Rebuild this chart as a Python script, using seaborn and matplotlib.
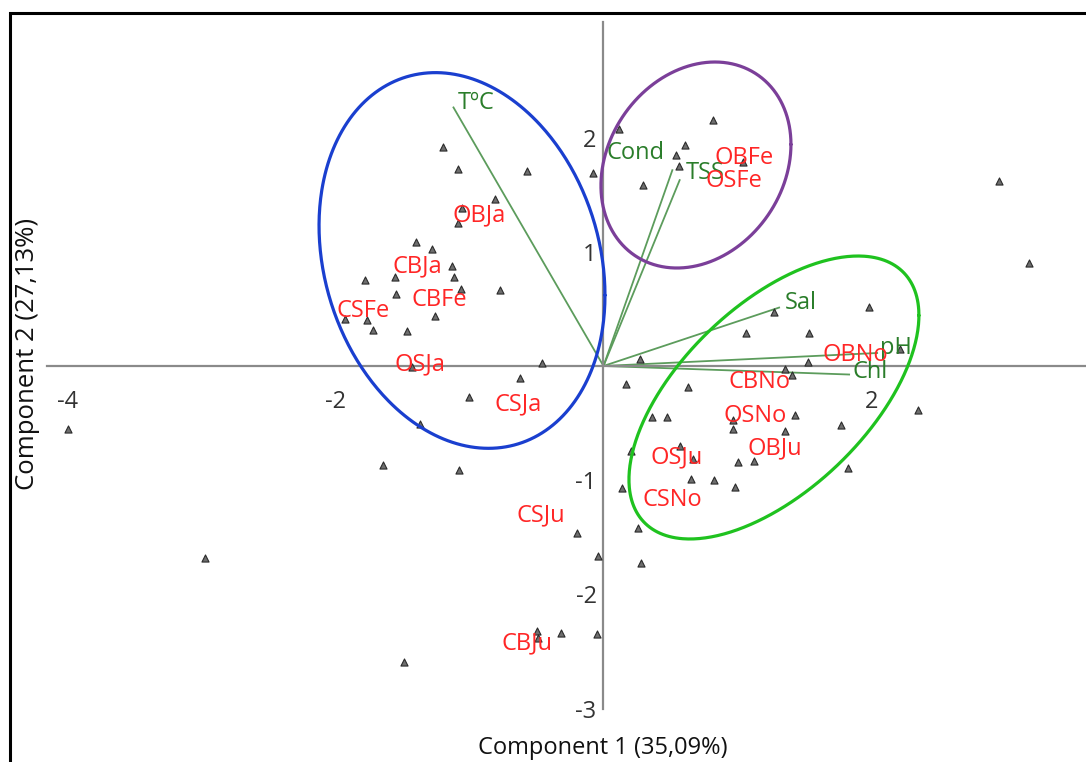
import numpy as np
import pandas as pd
import matplotlib
matplotlib.use("Agg")
import matplotlib.pyplot as plt
from matplotlib.patches import Rectangle
import seaborn as sns

# ---- PCA scores (Component 1, Component 2) of every sample ----
pc1 = [-1.196, -1.088, -0.571, -0.810, -1.054, -1.088, -1.397, -1.278, -1.128, -1.116,
       -1.782, -1.558, -1.549, -1.063, -0.772, -1.257, -1.929, -1.763, -1.718, -1.466,
       -1.429, -0.459, -0.623, -1.004, -1.369, -1.648, -1.078, -3.999, -2.974, -1.487,
       0.118, -0.076, 0.819, 0.610, 0.541, 0.566, 0.293, 1.043,
       1.979, 1.272, 1.066, 1.534, 0.272, 1.524, 2.213, 1.354, 1.409, 0.168,
       0.633, 2.345, 0.362, 0.476, 1.431, 0.964, 1.775, 0.969, 1.354, 1.006,
       1.123, 0.571, 0.203, 0.670, 1.827, 0.653, 0.822, 0.136, 0.979, 2.954,
       3.173, -0.196, 0.260, -0.043, 0.278, -0.494, -0.487, -0.317, -0.051]
pc2 = [1.915, 1.728, 1.710, 1.465, 1.384, 1.250, 1.086, 1.027, 0.876, 0.777,
       0.753, 0.777, 0.630, 0.677, 0.665, 0.438, 0.409, 0.403, 0.315, 0.309,
       -0.005, 0.024, -0.108, -0.269, -0.508, -0.864, -0.911, -0.554, -1.679, -2.595,
       2.078, 1.693, 2.154, 1.933, 1.845, 1.751, 1.582, 1.786,
       0.519, 0.473, 0.286, 0.286, 0.059, 0.035, 0.151, -0.029, -0.081, -0.158,
       -0.187, -0.385, -0.449, -0.449, -0.432, -0.473, -0.514, -0.554, -0.567, -0.841,
       -0.829, -0.701, -0.747, -0.817, -0.893, -0.992, -0.998, -1.068, -1.062, 1.617,
       0.899, -1.465, -1.419, -1.664, -1.728, -2.318, -2.384, -2.335, -2.347]

# ---- group labels (site/month codes) at their group positions ----
group_names = ["OBJa", "CBJa", "CBFe", "CSFe", "OSJa", "CSJa", "CSJu", "CBJu",
               "OBFe", "OSFe", "OBNo", "CBNo", "OSNo", "OBJu", "OSJu", "CSNo"]
group_pc1 = [-0.929, -1.388, -1.228, -1.795, -1.369, -0.638, -0.466, -0.571,
             1.048, 0.974, 1.877, 1.168, 1.131, 1.280, 0.549, 0.511]
group_pc2 = [1.322, 0.876, 0.578, 0.482, 0.018, -0.333, -1.305, -2.426,
             1.821, 1.620, 0.096, -0.140, -0.438, -0.718, -0.797, -1.173]

# ---- variable loadings (biplot vectors) ----
var_names = ["T\u00baC", "Cond", "TSS", "Sal", "pH", "Chl"]
load_pc1 = [-1.123, 0.516, 0.571, 1.317, 2.049, 1.840]
load_pc2 = [2.271, 1.722, 1.635, 0.514, 0.114, -0.075]
# where each variable name is written (left edge, vertical centre)
var_text_pc1 = [-1.086, 0.026, 0.616, 1.354, 2.063, 1.862]
var_text_pc2 = [2.307, 1.865, 1.690, 0.552, 0.158, -0.057]

# ---- cluster ellipses: centre, half-extent along each axis, correlation ----
clusters = {
    "blue":   dict(cx=-1.056, cy=0.924, ax=1.067, ay=1.645, r=-0.185, color="#1a3fcf"),
    "purple": dict(cx=0.690, cy=1.760, ax=0.709, ay=0.902, r=0.20, color="#7b3f99"),
    "green":  dict(cx=1.272, cy=-0.276, ax=1.082, ay=1.239, r=0.58, color="#1fc21f"),
}

scores = pd.DataFrame({"Component 1": pc1, "Component 2": pc2})

sns.set_theme(style="white")
plt.rcParams["font.family"] = ["Open Sans", "DejaVu Sans"]
plt.rcParams["axes.unicode_minus"] = False

W, H, DPI = 1086, 762, 100
fig = plt.figure(figsize=(W / DPI, H / DPI), dpi=DPI)
ax = fig.add_axes([0, 0, 1, 1])
ax.set_xlim(-4.504, 3.601)
ax.set_ylim(-3.468, 3.205)
ax.patch.set_alpha(0)

# axes crossing at the origin
axis_grey = "#8a8a8a"
for side in ("top", "right"):
    ax.spines[side].set_visible(False)
ax.spines["left"].set_position(("data", 0))
ax.spines["bottom"].set_position(("data", 0))
ax.spines["left"].set_bounds(-3.0, 3.012)
ax.spines["bottom"].set_bounds(-4.15, 3.601)
for side in ("left", "bottom"):
    ax.spines[side].set_color(axis_grey)
    ax.spines[side].set_linewidth(1.6)
ax.set_xticks([-4, -2, 2])
ax.set_yticks([-3, -2, -1, 1, 2])
ax.tick_params(axis="x", direction="out", length=6, width=1.4, color=axis_grey,
               labelsize=17, labelcolor="#333333", pad=11)
ax.tick_params(axis="y", direction="out", length=4, width=1.4, color=axis_grey,
               labelsize=17, labelcolor="#333333", pad=1)

# sample scores
sns.scatterplot(data=scores, x="Component 1", y="Component 2", ax=ax, marker="^",
                s=26, color="#6e6e6e", edgecolor="#2b2b2b", linewidth=0.8,
                zorder=3, legend=False)

# loading vectors and their names
for lx, ly in zip(load_pc1, load_pc2):
    ax.plot([0, lx], [0, ly], color="#5c9c5c", lw=1.3, zorder=2,
            solid_capstyle="butt")
for name, tx, ty in zip(var_names, var_text_pc1, var_text_pc2):
    ax.text(tx, ty, name, color="#2a7d2a", fontsize=17,
            ha="left", va="center", zorder=4)

# cluster ellipses
t = np.linspace(0, 2 * np.pi, 400)
for c in clusters.values():
    ex = c["cx"] + c["ax"] * np.cos(t)
    ey = c["cy"] + c["ay"] * (c["r"] * np.cos(t) + np.sqrt(1 - c["r"] ** 2) * np.sin(t))
    ax.plot(ex, ey, color=c["color"], lw=2.3, zorder=5)

# group labels
for name, gx, gy in zip(group_names, group_pc1, group_pc2):
    ax.text(gx, gy, name, color="#ff2626", fontsize=17, ha="center", va="center",
            zorder=6)

# axis titles
ax.set_xlabel("Component 1 (35,09%)", fontsize=17, color="#111111")
ax.xaxis.set_label_coords(603 / W, 1 - 748 / H)
ax.xaxis.label.set_va("center")
ax.set_ylabel("Component 2 (27,13%)", fontsize=18.5, color="#111111")
ax.yaxis.set_label_coords(28 / W, 1 - 354 / H)
ax.yaxis.label.set_va("center")

# outer frame
fig.patches.append(Rectangle((10 / W, -0.2), 1.5, 0.2 + 1 - 13 / H,
                             transform=fig.transFigure, fill=False,
                             edgecolor="black", lw=2.2, zorder=10))

fig.savefig("out.png", dpi=DPI)
